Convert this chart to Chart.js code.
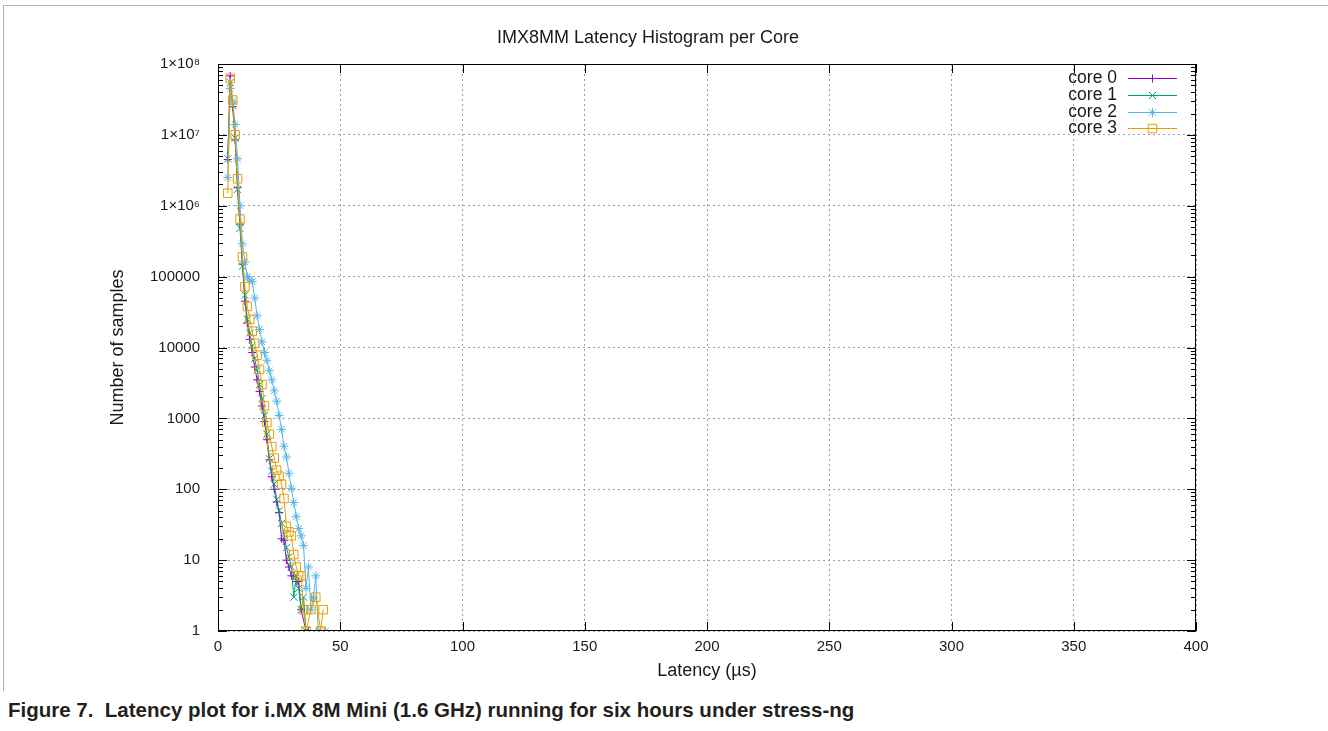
<!DOCTYPE html>
<html>
<head>
<meta charset="utf-8">
<title>IMX8MM Latency Histogram per Core</title>
<script src="https://cdn.jsdelivr.net/npm/chart.js@4.4.1/dist/chart.umd.min.js"></script>
<style>
    body { margin: 0; background: #fff; width: 1328px; height: 731px; overflow: hidden; position: relative; }
    .frame { position: absolute; left: 3px; top: 5px; width: 1330px; height: 685px; border-left: 1px solid #b0b0b0; border-top: 1px solid #b0b0b0; }
    .chart-wrap { position: absolute; left: 0; top: 0; width: 1328px; height: 692px; }
    .caption { position: absolute; left: 8px; top: 698px; font: bold 20.5px "Liberation Sans", Arial, sans-serif; color: #231f20; white-space: nowrap; }
</style>
</head>
<body>
<div class="frame"></div>
<div class="chart-wrap"><canvas id="latencyChart" width="1328" height="692"></canvas></div>
<div class="caption">Figure 7.&nbsp; Latency plot for i.MX 8M Mini (1.6 GHz) running for six hours under stress-ng</div>
<script>
// latency bins (µs)
const latencyUs = [4, 5, 6, 7, 8, 9, 10, 11, 12, 13, 14, 15, 16, 17, 18, 19, 20, 21, 22, 23, 24,
    25, 26, 27, 28, 29, 30, 31, 32, 33, 34, 35, 36, 37, 38, 39, 40, 41, 42, 43, 44];

// samples per bin (null = no point)
const core0 = [4.5e6, 6.8e7, 2.5e7, 8.5e6, 1.8e6, 5.5e5, 1.5e5, 4.5e4, 2.2e4, 1.3e4, 8500,
    5300, 3500, 2400, 1500, 900, 500, 260, 150, 100, 66, 47, 20, 19, 10, 8, 6, 6, 5, 5, 2,
    null, 1, 1, null, null, null, null, null, null, null];
const core1 = [4.6e6, 5.5e7, 2.6e7, 9e6, 1.7e6, 4.8e5, 1.4e5, 5.5e4, 2.5e4, 1.6e4, 10500,
    7000, 4800, 3000, 1900, 1100, 600, 270, 180, 118, 72, 50, 33, 23, 15, 11, 8, 3, 6, 4, 2,
    3, 1, null, null, null, null, null, null, null, null];
const core2 = [2.5e6, 4.5e7, 3e7, 1.4e7, 4.6e6, 1e6, 2.9e5, 1.6e5, 1e5, 9e4, 8.5e4,
    5e4, 2.8e4, 1.8e4, 1.2e4, 8500, 6600, 4700, 3500, 2450, 1750, 1100, 700, 405, 285, 168,
    103, 65, 41, 28, 22, 16, 4, 8, 2, 3, 6, 1, null, null, 1];
const core3 = [1.5e6, 6.3e7, 3.1e7, 1e7, 2.4e6, 6.5e5, 1.9e5, 7.2e4, 3.8e4, 2.5e4, 1.7e4,
    11500, 7800, 4900, 3000, 1500, 870, 600, 400, 275, 186, 153, 118, 74, 30, 25, 22, 12, 8,
    6, 6, 2, 1, null, 2, null, 3, null, 1, 2, null];

const seriesNames = ['core 0', 'core 1', 'core 2', 'core 3'];
const seriesValues = [core0, core1, core2, core3];

// axis ticks
const yTickValues = [1, 10, 100, 1000, 10000, 100000, 1e6, 1e7, 1e8];
const yTickLabels = ['1', '10', '100', '1000', '10000', '100000', '1×10⁶', '1×10⁷', '1×10⁸'];

const colors = ['#9400d3', '#009e73', '#56b4e9', '#e69f00'];
const pointStyles = ['cross', 'crossRot', 'star', 'rect'];
const pointRadii = [4, 5, 4.5, 6];

const FONT = '"Liberation Sans", Arial, sans-serif';
const TEXT = '#1a1a1a';

const toPoints = (vals) => latencyUs
    .map((x, i) => ({ x: x, y: vals[i] }))
    .filter(p => p.y !== null);

const datasets = seriesNames.map((name, i) => ({
    label: name,
    data: toPoints(seriesValues[i]),
    borderColor: colors[i],
    backgroundColor: 'rgba(0,0,0,0)',
    borderWidth: 1,
    pointStyle: pointStyles[i],
    pointRadius: pointRadii[i],
    pointBorderWidth: 1,
    pointBorderColor: colors[i],
    pointBackgroundColor: 'rgba(0,0,0,0)',
    tension: 0,
    spanGaps: true,
    order: 3 - i
}));

// gnuplot-like frame, inward ticks and legend
const framePlugin = {
    id: 'gnuplotFrame',
    afterDraw(chart) {
        const { ctx, chartArea: a, scales: { x, y } } = chart;
        ctx.save();
        ctx.strokeStyle = '#000';
        ctx.lineWidth = 1;
        ctx.strokeRect(a.left + 0.5, a.top + 0.5, a.right - a.left - 1, a.bottom - a.top - 1);

        ctx.beginPath();
        // y ticks, major and minor on both sides
        for (let d = 0; d < 8; d++) {
            for (let m = 1; m <= 10; m++) {
                const v = m * Math.pow(10, d);
                if (v > 1e8) continue;
                const py = Math.round(y.getPixelForValue(v)) + 0.5;
                const len = (m === 1 || m === 10) ? 9 : 5;
                ctx.moveTo(a.left, py); ctx.lineTo(a.left + len, py);
                ctx.moveTo(a.right, py); ctx.lineTo(a.right - len, py);
            }
        }
        // x ticks top and bottom
        for (let v = 0; v <= 400; v += 50) {
            const px = Math.round(x.getPixelForValue(v)) + 0.5;
            ctx.moveTo(px, a.bottom); ctx.lineTo(px, a.bottom - 9);
            ctx.moveTo(px, a.top); ctx.lineTo(px, a.top + 9);
        }
        ctx.stroke();

        // legend, top right inside the plot
        ctx.font = '17.5px ' + FONT;
        ctx.textAlign = 'right';
        ctx.textBaseline = 'middle';
        chart.data.datasets.forEach((ds, i) => {
            const ly = Math.round(78 + i * 16.8) + 0.5;
            ctx.fillStyle = TEXT;
            ctx.fillText(ds.label, 1117, ly);
            ctx.strokeStyle = ds.borderColor;
            ctx.fillStyle = 'rgba(0,0,0,0)';
            ctx.lineWidth = 1;
            ctx.beginPath();
            ctx.moveTo(1128, ly);
            ctx.lineTo(1177, ly);
            ctx.stroke();
            Chart.helpers.drawPoint(ctx, {
                pointStyle: ds.pointStyle,
                radius: ds.pointRadius,
                rotation: 0,
                borderWidth: 1
            }, 1152.5, ly);
        });
        ctx.restore();
    }
};

new Chart(document.getElementById('latencyChart'), {
    type: 'line',
    data: { datasets: datasets },
    options: {
        responsive: false,
        animation: false,
        devicePixelRatio: 1,
        layout: { padding: { left: 100, right: 132, top: 0, bottom: 0 } },
        plugins: {
            legend: { display: false },
            tooltip: { enabled: false },
            title: {
                display: true,
                text: 'IMX8MM Latency Histogram per Core',
                color: TEXT,
                font: { family: FONT, size: 18, weight: 'normal' },
                padding: { top: 27, bottom: 15.4 }
            }
        },
        scales: {
            x: {
                type: 'linear',
                min: 0,
                max: 400,
                ticks: { stepSize: 50, color: TEXT, padding: 7, font: { family: FONT, size: 15 } },
                grid: { color: '#a0a0a0', drawTicks: false, lineWidth: 1 },
                border: { display: false, dash: [2, 3] },
                title: {
                    display: true,
                    text: 'Latency (µs)',
                    color: TEXT,
                    font: { family: FONT, size: 18 },
                    padding: { top: 0, bottom: 10 }
                },
                afterFit: (scale) => { scale.height = 61; }
            },
            y: {
                type: 'logarithmic',
                min: 1,
                max: 1e8,
                afterBuildTicks: (scale) => {
                    scale.ticks = yTickValues.map(v => ({ value: v }));
                },
                ticks: {
                    color: TEXT,
                    padding: 18,
                    font: { family: FONT, size: 15 },
                    callback: (value, index) => yTickLabels[index]
                },
                grid: { color: '#a0a0a0', drawTicks: false, lineWidth: 1 },
                border: { display: false, dash: [2, 3] },
                title: {
                    display: true,
                    text: 'Number of samples',
                    color: TEXT,
                    font: { family: FONT, size: 18 },
                    padding: { top: 7, bottom: 0 }
                },
                afterFit: (scale) => { scale.width = 118; }
            }
        }
    },
    plugins: [framePlugin]
});
</script>
</body>
</html>
